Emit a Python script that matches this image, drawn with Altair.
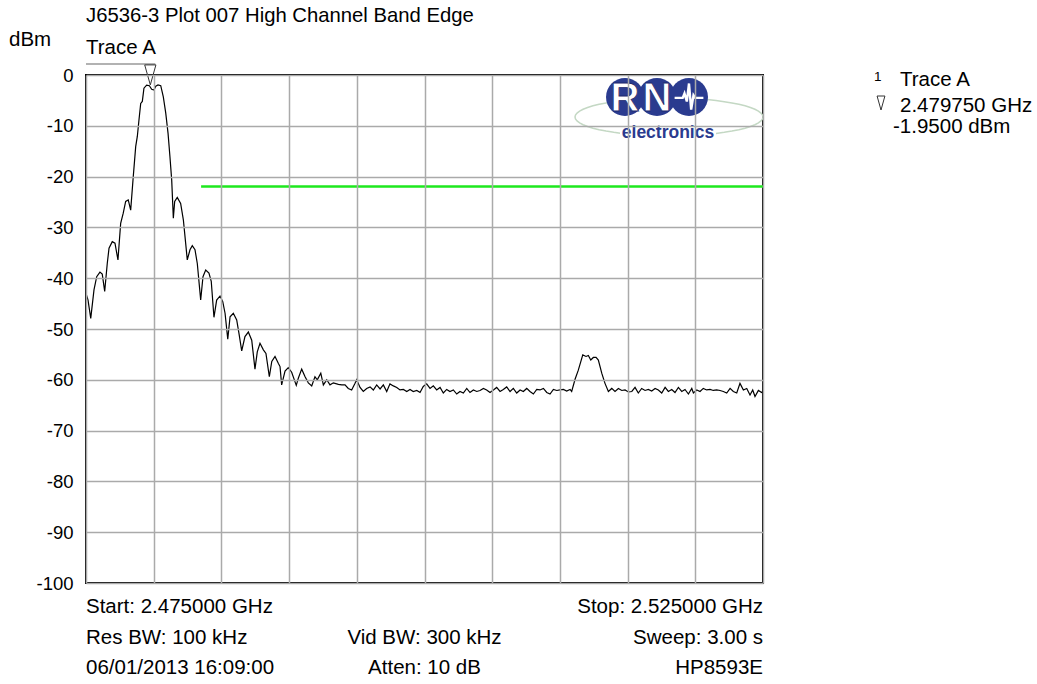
import altair as alt
import pandas as pd
import numpy as np

# ---------------- data ----------------
START_GHZ = 2.475
STOP_GHZ = 2.525
# frequency offset from start (MHz) and amplitude (dBm) of Trace A
freq_off_mhz = [
    0.0, 0.15, 0.35, 0.59, 0.79, 1.03, 1.20, 1.38, 1.57, 1.70, 1.94, 2.14, 2.36, 2.56, 2.75, 2.93,
    3.12, 3.30, 3.49, 3.67, 3.79, 3.91, 4.04, 4.16, 4.28, 4.48, 4.68, 4.85, 5.02, 5.15, 5.32, 5.52,
    5.71, 5.89, 6.06, 6.20, 6.33, 6.45, 6.55, 6.74, 6.99, 7.19, 7.36, 7.48, 7.68, 7.85, 8.05, 8.22,
    8.47, 8.64, 8.84, 9.08, 9.25, 9.45, 9.65, 9.90, 10.10, 10.27, 10.47, 10.64, 10.88, 11.13, 11.30,
    11.50, 11.74, 11.99, 12.24, 12.48, 12.65, 12.85, 13.10, 13.29, 13.54, 13.72, 13.96, 14.21, 14.33,
    14.45, 14.70, 14.94, 15.19, 15.53, 15.68, 15.93, 16.18, 16.42, 16.67, 16.91, 17.08, 17.34, 17.53,
    17.78, 18.02, 18.27, 18.64, 18.89, 19.13, 19.37, 19.62, 19.87, 19.99, 20.24, 20.48, 20.73, 20.98,
    21.22, 21.47, 21.72, 21.96, 22.21, 22.45, 22.70, 22.95, 23.19, 23.44, 23.69, 23.93, 24.17, 24.43,
    24.67, 24.91, 25.16, 25.41, 25.65, 25.90, 26.15, 26.39, 26.64, 26.88, 27.13, 27.38, 27.62, 27.87,
    28.12, 28.36, 28.61, 28.86, 29.10, 29.35, 29.59, 29.84, 30.09, 30.33, 30.58, 30.82, 31.07, 31.32,
    31.56, 31.81, 32.06, 32.30, 32.55, 32.79, 33.04, 33.29, 33.53, 33.78, 34.03, 34.27, 34.52, 34.77,
    35.01, 35.26, 35.50, 35.75, 35.87, 36.12, 36.36, 36.69, 36.93, 37.10, 37.28, 37.47, 37.67, 37.84,
    38.09, 38.33, 38.58, 38.83, 39.07, 39.32, 39.57, 39.81, 40.06, 40.31, 40.55, 40.79, 41.04, 41.29,
    41.53, 41.78, 42.03, 42.27, 42.52, 42.77, 43.01, 43.26, 43.50, 43.75, 44.00, 44.24, 44.49, 44.74,
    44.86, 45.11, 45.35, 45.59, 45.84, 46.09, 46.33, 46.58, 46.83, 47.07, 47.32, 47.57, 47.81, 48.06,
    48.30, 48.55, 48.80, 49.04, 49.24, 49.41, 49.66, 49.90, 50.0,
]
amp_dbm = [
    -43.0, -44.3, -47.9, -42.3, -39.7, -38.8, -39.2, -42.6, -37.1, -34.1, -32.8, -33.1, -36.4, -29.2, -27.2, -24.9,
    -24.6, -26.6, -20.0, -14.1, -12.1, -8.9, -5.6, -5.2, -2.6, -2.0, -2.1, -2.8, -2.95, -2.2, -1.95, -2.1,
    -4.3, -7.5, -11.5, -16.1, -20.7, -28.2, -24.9, -24.1, -25.3, -28.5, -33.1, -36.4, -34.4, -33.6, -34.4, -37.1,
    -44.3, -39.7, -38.4, -39.0, -40.6, -47.7, -44.3, -43.5, -44.6, -46.9, -52.0, -47.6, -46.9, -48.2, -50.9,
    -54.3, -51.5, -50.6, -52.2, -57.9, -54.5, -52.8, -54.1, -54.8, -59.4, -56.4, -55.4, -56.8, -57.4,
    -61.0, -58.3, -57.6, -58.5, -61.1, -59.7, -57.9, -59.4, -60.6, -61.2, -59.4, -60.0, -58.7, -61.0,
    -60.0, -61.0, -60.6, -60.9, -61.0, -61.0, -61.7, -62.0, -60.7, -60.0, -61.5, -62.3, -61.7, -61.4,
    -62.0, -61.0, -61.8, -61.0, -62.3, -60.8, -61.2, -61.5, -62.0, -61.9, -62.3, -61.9, -62.3, -62.1,
    -62.5, -61.3, -60.8, -61.7, -61.2, -62.0, -61.5, -62.6, -61.9, -62.3, -62.0, -62.8, -62.3, -62.6,
    -61.7, -62.5, -62.0, -62.3, -62.1, -61.7, -62.0, -62.5, -62.0, -61.5, -62.3, -61.9, -61.4, -62.3,
    -61.7, -62.6, -62.0, -62.3, -61.7, -62.3, -62.8, -61.9, -62.0, -61.7, -62.5, -62.8, -61.9, -62.1,
    -62.0, -61.9, -62.2, -61.9, -62.3, -59.9, -58.1, -55.1, -55.4, -55.2, -56.1, -55.6, -55.6, -56.1,
    -58.7, -60.7, -62.3, -61.7, -62.3, -61.7, -62.1, -62.0, -62.4, -62.3, -61.5, -62.6, -61.7, -62.1,
    -61.9, -62.2, -61.7, -62.0, -62.6, -61.5, -62.3, -61.9, -62.5, -61.5, -62.3, -61.9, -62.8, -61.7,
    -62.6, -62.0, -62.3, -61.7, -62.0, -61.9, -62.1, -62.0, -62.1, -62.3, -62.6, -61.7, -62.3, -62.6,
    -60.7, -62.0, -61.7, -63.0, -62.0, -63.3, -62.1, -62.5, -62.3,
]

marker_ghz = 2.479750
marker_dbm = -1.95
limit_start_ghz = 2.4835
limit_dbm = -21.95

y_ticks = list(range(-100, 1, 10))
x_ticks = list(range(0, 51, 5))

title_text = "J6536-3 Plot 007 High Channel Band Edge"
info_left = ["Start: 2.475000 GHz", "Res BW: 100 kHz", "06/01/2013 16:09:00"]
info_mid = ["", "Vid BW: 300 kHz", "Atten: 10 dB"]
info_right = ["Stop: 2.525000 GHz", "Sweep: 3.00 s", "HP8593E"]

FONT = "Liberation Sans"
FS = 20.5
W, H = 677, 508

trace = pd.DataFrame({"off": freq_off_mhz, "dbm": amp_dbm})
mk_off = round((marker_ghz - START_GHZ) * 1000, 4)
lim_off = round((limit_start_ghz - START_GHZ) * 1000, 4)
span = round((STOP_GHZ - START_GHZ) * 1000, 4)

xs = alt.Scale(domain=[0, span], nice=False, zero=False)
ys = alt.Scale(domain=[-100, 0], nice=False, zero=False)

base = alt.Chart(trace)

line = base.mark_line(color="black", strokeWidth=1.2, clip=True).encode(
    x=alt.X("off:Q", scale=xs,
            axis=alt.Axis(values=x_ticks, labels=False, ticks=False, domain=False, title=None,
                          grid=True, gridColor="#aaaaaa", gridWidth=1.5, zindex=1)),
    y=alt.Y("dbm:Q", scale=ys,
            axis=alt.Axis(values=y_ticks, ticks=False, domain=False, title=None, grid=True,
                          gridColor="#aaaaaa", gridWidth=1.5, labelFontSize=18.5, labelFont=FONT,
                          labelColor="black", labelPadding=13, zindex=1,
                          labelExpr="'' + datum.value")),
)

limit = alt.Chart(pd.DataFrame({"a": [lim_off], "b": [span], "y": [limit_dbm]})).mark_rule(
    color="#1ee81e", strokeWidth=2.5).encode(
    x=alt.X("a:Q", scale=xs), x2="b:Q", y=alt.Y("y:Q", scale=ys))

mk_df = pd.DataFrame({"off": [mk_off], "dbm": [marker_dbm], "z": [0.0]})
tri_path = "M -0.28 -1 L 0.28 -1 L 0 0 Z"
marker = alt.Chart(mk_df).mark_point(shape=tri_path, size=1600, filled=False, color="#333333",
                                     strokeWidth=1, opacity=1).encode(
    x=alt.X("off:Q", scale=xs), y=alt.Y("dbm:Q", scale=ys))
mk_line = alt.Chart(mk_df).mark_rule(color="#666666", strokeWidth=1.2, x2Offset=5).encode(
    x=alt.X("z:Q", scale=xs), x2="off:Q", y=alt.value(-11))


def txt(s, x, y, size=FS, align="left", color="black", weight="normal", font=FONT, **kw):
    return alt.Chart(pd.DataFrame({"t": [s]})).mark_text(
        align=align, baseline="middle", fontSize=size, font=font, color=color,
        fontWeight=weight, **kw).encode(x=alt.value(x), y=alt.value(y), text="t:N")


layers = []

# ---- logo (decoration) ----
t = np.linspace(0, 2 * np.pi, 61)
ell_path = "M " + " L ".join(f"{np.cos(a):.3f} {0.202 * np.sin(a):.3f}" for a in t) + " Z"
layers.append(alt.Chart(pd.DataFrame({"a": [0]})).mark_point(
    shape=ell_path, size=(2 * 94) ** 2, filled=False, color="#c4d8c4", strokeWidth=1.5, opacity=1
).encode(x=alt.value(583), y=alt.value(42)))
layers.append(alt.Chart(pd.DataFrame({"a": [0]})).mark_rect(color="white").encode(
    x=alt.value(534), x2=alt.value(630), y=alt.value(52), y2=alt.value(68)))
for cx in [539, 571, 603]:
    layers.append(alt.Chart(pd.DataFrame({"a": [0]})).mark_point(
        shape="circle", size=38 * 38, filled=True, color="#2a3b8f", opacity=1
    ).encode(x=alt.value(cx), y=alt.value(22)))
layers.append(txt("R", 539, 24, size=40, align="center", color="white", weight="bold",
                  stroke="#1c2a6e", strokeWidth=0.8))
layers.append(txt("N", 571, 24, size=40, align="center", color="white", weight="bold",
                  stroke="#1c2a6e", strokeWidth=0.8))
heart = "M -0.8 0.05 L -0.35 0.05 L -0.25 -0.2 L -0.12 0.25 L 0.0 -0.75 L 0.12 0.7 L 0.25 -0.1 L 0.35 0.05 L 0.8 0.05"
layers.append(alt.Chart(pd.DataFrame({"a": [0]})).mark_point(
    shape=heart, size=36 * 36, filled=False, color="white", strokeWidth=2.4, opacity=1
).encode(x=alt.value(603), y=alt.value(22)))
layers.append(txt("electronics", 582, 58, size=17.5, align="center", color="#2a3b8f", weight="bold"))

# ---- texts ----
layers.append(txt(title_text, 0, -59, size=20.3))
layers.append(txt("dBm", -77, -35))
layers.append(txt("Trace A", 0, -27))
rows_y = [532, 563, 593]
for i, yv in enumerate(rows_y):
    if info_left[i]:
        layers.append(txt(info_left[i], 0, yv))
    if info_mid[i]:
        layers.append(txt(info_mid[i], W / 2, yv, align="center"))
    if info_right[i]:
        layers.append(txt(info_right[i], W, yv, align="right"))

# right-side marker readout
layers.append(txt("1", 788, 2, size=13.5))
layers.append(txt("Trace A", 814, 5))
layers.append(alt.Chart(pd.DataFrame({"a": [0]})).mark_point(
    shape=tri_path, size=28 * 28, filled=False, color="#333333", strokeWidth=1, opacity=1
).encode(x=alt.value(795), y=alt.value(35)))
layers.append(txt(f"{marker_ghz:.6f} GHz", 814, 31))
layers.append(txt(f"{marker_dbm:.4f} dBm", 807, 52))

chart = alt.layer(line, *layers, limit, mk_line, marker).properties(
    width=W, height=H,
    autosize=alt.AutoSizeParams(type="none"),
    padding={"left": 86, "top": 75, "right": 274, "bottom": 101},
    background="white",
).configure_view(stroke="black", strokeWidth=2)

chart.save("out.html", embed_options={"renderer": "svg", "actions": False})
